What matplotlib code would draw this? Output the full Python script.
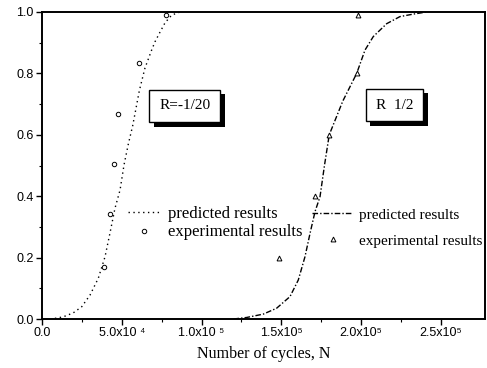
import matplotlib
matplotlib.use("Agg")
import matplotlib.pyplot as plt
from matplotlib.lines import Line2D
import matplotlib.patheffects as pe

# ---- data ----
# R = -1/20 predicted curve (cycles, probability)
pred1_n = [0.81e4, 1.33e4, 1.96e4, 2.49e4, 3.01e4, 3.53e4, 3.95e4, 4.26e4, 4.57e4,
           4.89e4, 5.14e4, 5.41e4, 5.68e4, 5.89e4, 6.10e4, 6.45e4, 6.87e4, 7.08e4,
           7.35e4, 7.71e4, 8.13e4, 8.65e4]
pred1_p = [0.002, 0.007, 0.020, 0.040, 0.078, 0.133, 0.203, 0.280, 0.360,
           0.420, 0.502, 0.570, 0.629, 0.686, 0.744, 0.817, 0.876, 0.903,
           0.930, 0.965, 0.990, 1.000]
exp1_n = [3.9e4, 4.26e4, 4.5e4, 4.76e4, 6.1e4, 7.8e4]
exp1_p = [0.169, 0.342, 0.505, 0.668, 0.834, 0.99]

# R = 1/2 predicted curve
pred2_n = [1.20e5, 1.283e5, 1.387e5, 1.47e5, 1.554e5, 1.606e5, 1.648e5, 1.68e5,
           1.711e5, 1.742e5, 1.77e5, 1.80e5, 1.885e5, 1.972e5, 2.024e5, 2.076e5,
           2.16e5, 2.243e5, 2.325e5, 2.41e5]
pred2_p = [0.000, 0.005, 0.016, 0.035, 0.073, 0.127, 0.203, 0.280,
           0.350, 0.398, 0.500, 0.600, 0.710, 0.800, 0.876, 0.920,
           0.962, 0.985, 0.993, 1.000]
exp2_n = [1.485e5, 1.71e5, 1.80e5, 1.974e5, 1.98e5]
exp2_p = [0.20, 0.40, 0.60, 0.80, 0.99]

xticks = [0, 5e4, 1e5, 1.5e5, 2e5, 2.5e5]
xticklabels = ["0.0", "5.0x10 \u2074", "1.0x10 \u2075", "1.5x10\u2075", "2.0x10\u2075", "2.5x10\u2075"]
yticks = [0.0, 0.2, 0.4, 0.6, 0.8, 1.0]
yticklabels = ["0.0", "0.2", "0.4", "0.6", "0.8", "1.0"]
label_pred = "predicted results"
label_exp = "experimental results"
box1_text = "R=-1/20"
box2_text = "R  1/2"
xlabel = "Number of cycles, N"

serif = "Liberation Serif"
sans = "Liberation Sans"

fig = plt.figure(figsize=(4.87, 3.68), dpi=100)
ax = fig.add_axes([42/487, 49/368, 443/487, 307/368])

dot_style = (0, (1, 2.5))
dashdot_style = (0, (4, 1.5, 1, 1.5))

ax.plot(pred1_n, pred1_p, color="black", linestyle=dot_style, linewidth=1.0)
ax.plot(exp1_n, exp1_p, linestyle="none", marker="o", markersize=3.2,
        markerfacecolor="white", markeredgecolor="black", markeredgewidth=0.7)
ax.plot(pred2_n, pred2_p, color="black", linestyle=dashdot_style, linewidth=1.0)
ax.plot(exp2_n, exp2_p, linestyle="none", marker="^", markersize=3.5,
        markerfacecolor="white", markeredgecolor="black", markeredgewidth=0.7)

ax.set_xlim(0, 2.776e5)
ax.set_ylim(0, 1.0)
ax.set_xticks(xticks)
ax.set_xticklabels(xticklabels, fontname=sans, fontsize=9)
ax.set_yticks(yticks)
ax.set_yticklabels(yticklabels, fontname=sans, fontsize=9)
ax.set_xticks([2.5e4, 7.5e4, 1.25e5, 1.75e5, 2.25e5], minor=True)
ax.set_yticks([0.1, 0.3, 0.5, 0.7, 0.9], minor=True)
ax.tick_params(which="major", direction="out", length=4, width=1.0, pad=2)
ax.tick_params(which="minor", direction="out", length=2, width=0.8)
for s in ax.spines.values():
    s.set_linewidth(1.4)

ax.set_xlabel(xlabel, fontname=serif, fontsize=11.5, labelpad=5)

# legends
h1 = [Line2D([], [], color="black", linestyle=dot_style, linewidth=1.0),
      Line2D([], [], linestyle="none", marker="o", markersize=3.2,
             markerfacecolor="white", markeredgecolor="black", markeredgewidth=0.7)]
leg1 = ax.legend(h1, [label_pred, label_exp], loc="upper left",
                 bbox_to_anchor=(86/443, (319-206)/307), frameon=False,
                 prop={"family": serif, "size": 12}, handlelength=1.9,
                 handletextpad=0.5, labelspacing=0.15, borderpad=0, borderaxespad=0)
ax.add_artist(leg1)
h2 = [Line2D([], [], color="black", linestyle=dashdot_style, linewidth=1.0),
      Line2D([], [], linestyle="none", marker="^", markersize=3.5,
             markerfacecolor="white", markeredgecolor="black", markeredgewidth=0.7)]
leg2 = ax.legend(h2, [label_pred, label_exp], loc="upper left",
                 bbox_to_anchor=(270/443, (319-208)/307), frameon=False,
                 prop={"family": serif, "size": 11}, handlelength=2.7,
                 handletextpad=0.35, labelspacing=0.8, borderpad=0, borderaxespad=0)

# boxed labels with shadow
def shadow_box(x, y, s):
    t = ax.text(x, y, s, fontname=serif, fontsize=11, color="black",
                ha="center", va="center",
                bbox=dict(boxstyle="square,pad=0.65", fc="white", ec="black", lw=1.0))
    t.get_bbox_patch().set_path_effects([
        pe.SimplePatchShadow(offset=(3, -3), shadow_rgbFace="black", alpha=1.0),
        pe.Normal()])

shadow_box(8.96e4, 0.694, box1_text)
shadow_box(2.21e5, 0.697, box2_text)

fig.savefig("out.png", dpi=100)
